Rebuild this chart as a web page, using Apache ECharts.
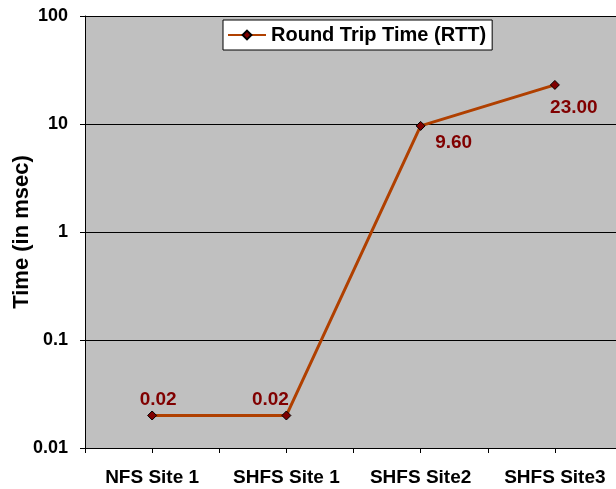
<!DOCTYPE html>
<html><head><meta charset="utf-8">
<script src="https://cdn.jsdelivr.net/npm/echarts@6/dist/echarts.min.js"></script>
<style>html,body{margin:0;padding:0;background:#fff}#c{width:616px;height:489px}</style>
</head><body><div id="c"></div>
<script>
const categories = ["NFS Site 1", "SHFS Site 1", "SHFS Site2", "SHFS Site3"];
const rttValues = [0.02, 0.02, 9.6, 23.0];
const yTickLabels = ["0.01", "0.1", "1", "10", "100"];
const seriesName = "Round Trip Time (RTT)";
const halfTickSlots = ["", "", "", "", "", "", "", ""];

const labelOffsets = [[6, -16], [-16, -16], [33, 17], [19, 23]];
const F = 'Liberation Sans';
const chart = echarts.init(document.getElementById('c'));
chart.setOption({
  backgroundColor: '#fff',
  animation: false,
  grid: {left: 85, top: 16, width: 537, height: 432, outerBoundsMode: 'none', containLabel: false,
         show: true, backgroundColor: '#c0c0c0', borderWidth: 0},
  legend: {
    data: [seriesName], left: 223, top: 20,
    backgroundColor: '#fff', borderColor: '#000', borderWidth: 1,
    padding: [5, 6, 5, 4], itemWidth: 38, itemHeight: 11, itemGap: 2,
    textStyle: {fontFamily: F, fontWeight: 'bold', fontSize: 20, color: '#000'}
  },
  xAxis: [{
    type: 'category', data: categories, boundaryGap: true,
    axisLine: {lineStyle: {color: '#000', width: 1}},
    axisTick: {show: false},
    axisLabel: {fontFamily: F, fontWeight: 'bold', fontSize: 19, color: '#000', margin: 20, interval: 0, hideOverlap: false}
  }, {
    type: 'category', data: halfTickSlots, boundaryGap: true, position: 'bottom', offset: 0,
    axisLine: {show: false},
    axisTick: {show: true, length: 5, lineStyle: {color: '#000'}},
    axisLabel: {show: false}
  }],
  yAxis: {
    type: 'log', logBase: 10, min: 0.01, max: 100,
    name: 'Time (in msec)', nameLocation: 'middle', nameGap: 52, nameRotate: 90, nameMoveOverlap: false,
    nameTextStyle: {fontFamily: F, fontWeight: 'bold', fontSize: 22, color: '#000'},
    axisLine: {show: true, lineStyle: {color: '#000'}},
    axisTick: {show: true, length: 5, lineStyle: {color: '#000'}},
    splitLine: {show: true, lineStyle: {color: '#000', width: 1}},
    axisLabel: {
      fontFamily: F, fontWeight: 'bold', fontSize: 18, color: '#000', margin: 17,
      formatter: function (v) {
        const i = Math.round(Math.log10(v)) + 2;
        return yTickLabels[i] !== undefined ? yTickLabels[i] : '';
      }
    }
  },
  series: [{
    name: seriesName, type: 'line', xAxisIndex: 0,
    data: rttValues.map((v, i) => ({
      value: v,
      label: {offset: labelOffsets[i]}
    })),
    symbol: 'diamond', symbolSize: 9,
    itemStyle: {color: '#800000', borderColor: '#000', borderWidth: 1},
    lineStyle: {color: '#b04000', width: 3},
    label: {
      show: true, position: 'inside',
      fontFamily: F, fontWeight: 'bold', fontSize: 19, color: '#800000',
      formatter: p => p.value.toFixed(2)
    }
  }]
});
</script></body></html>
